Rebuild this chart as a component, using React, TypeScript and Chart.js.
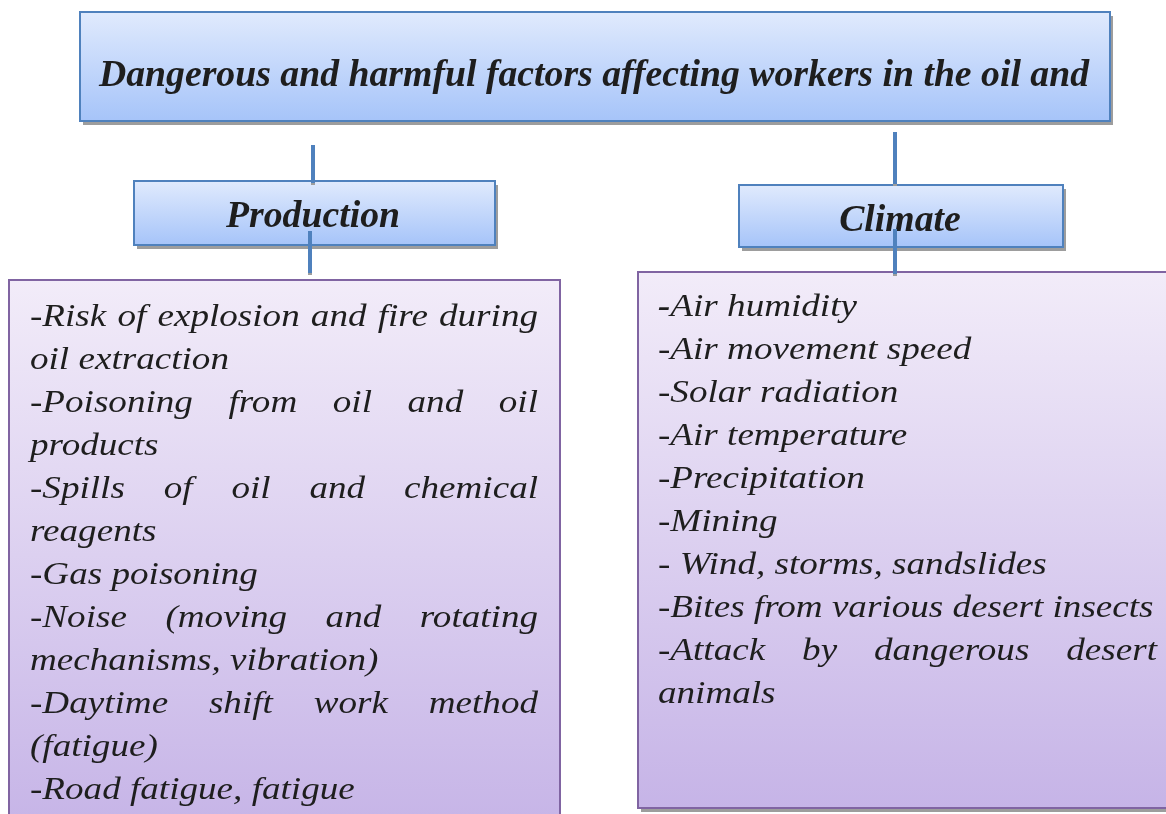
import React, { useEffect, useRef } from "react";
import { Chart, registerables } from "chart.js";

Chart.register(...registerables);

// ---- content ----
const titleText = "Dangerous and harmful factors affecting workers in the oil and";
const branchLabels = ["Production", "Climate"];

const productionLines = [
  "-Risk of explosion and fire during",
  "oil extraction",
  "-Poisoning from oil and oil",
  "products",
  "-Spills of oil and chemical",
  "reagents",
  "-Gas poisoning",
  "-Noise (moving and rotating",
  "mechanisms, vibration)",
  "-Daytime shift work method",
  "(fatigue)",
  "-Road fatigue, fatigue",
];
const productionJustified = [true, false, true, false, true, false, false, true, false, true, false, false];

const climateLines = [
  "-Air humidity",
  "-Air movement speed",
  "-Solar radiation",
  "-Air temperature",
  "-Precipitation",
  "-Mining",
  "- Wind, storms, sandslides",
  "-Bites from various desert insects",
  "-Attack by dangerous desert",
  "animals",
];
const climateJustified = [false, false, false, false, false, false, false, false, true, false];
const climateBoldDash = [true, false, false, false, false, false, false, false, false, false];

const W = 1166;
const H = 814;
const TEXT_STRETCH = 1.16;
const TITLE_STRETCH = 1.02;

type Box = { x0: number; y0: number; x1: number; y1: number };

const diagramPlugin = {
  id: "diagram",
  afterDraw(chart: any) {
    const ctx: CanvasRenderingContext2D = chart.ctx;
    const sx = chart.scales.x;
    const sy = chart.scales.y;
    const px = (v: number) => sx.getPixelForValue(v);
    const py = (v: number) => sy.getPixelForValue(v);

    const drawBox = (b: Box, top: string, bottom: string, border: string, shadow: boolean) => {
      const x0 = px(b.x0), x1 = px(b.x1), y0 = py(b.y0), y1 = py(b.y1);
      if (shadow) {
        ctx.fillStyle = "#9d9d9d";
        ctx.fillRect(x0 + 3, y0 + 4, x1 - x0, y1 - y0);
      }
      const g = ctx.createLinearGradient(0, y0, 0, y1);
      g.addColorStop(0, top);
      g.addColorStop(1, bottom);
      ctx.fillStyle = g;
      ctx.fillRect(x0, y0, x1 - x0, y1 - y0);
      ctx.strokeStyle = border;
      ctx.lineWidth = 2;
      ctx.strokeRect(x0, y0, x1 - x0, y1 - y0);
    };

    const blueTop = "#e0eafd";
    const blueBot = "#a6c4f9";
    const blueBorder = "#4f81bd";
    const purpleTop = "#f2ecf9";
    const purpleBot = "#c6b4e7";
    const purpleBorder = "#8064a2";

    // boxes
    drawBox({ x0: 80, y0: 12, x1: 1110, y1: 121 }, blueTop, blueBot, blueBorder, true);
    drawBox({ x0: 134, y0: 181, x1: 495, y1: 245 }, blueTop, blueBot, blueBorder, true);
    drawBox({ x0: 739, y0: 185, x1: 1063, y1: 247 }, blueTop, blueBot, blueBorder, true);
    drawBox({ x0: 9, y0: 280, x1: 560, y1: 830 }, purpleTop, purpleBot, purpleBorder, false);
    drawBox({ x0: 638, y0: 272, x1: 1170, y1: 808 }, purpleTop, purpleBot, purpleBorder, true);

    ctx.fillStyle = "#1e1e1e";
    ctx.textBaseline = "alphabetic";

    const stretchedCenter = (t: string, cx: number, y: number, s: number) => {
      ctx.save();
      ctx.translate(cx, y);
      ctx.scale(s, 1);
      ctx.textAlign = "center";
      ctx.fillText(t, 0, 0);
      ctx.restore();
    };

    // title and branches
    ctx.font = "italic bold 37px 'Liberation Serif'";
    stretchedCenter(titleText, px(594), py(86), TITLE_STRETCH);
    stretchedCenter(branchLabels[0], px(313), py(227), TITLE_STRETCH);
    stretchedCenter(branchLabels[1], px(900), py(231), TITLE_STRETCH);

    // lists
    const normalFont = "italic 32px 'Liberation Serif'";
    const boldFont = "italic bold 32px 'Liberation Serif'";
    const drawAt = (t: string, x: number, y: number) => {
      ctx.save();
      ctx.translate(x, y);
      ctx.scale(TEXT_STRETCH, 1);
      ctx.fillText(t, 0, 0);
      ctx.restore();
    };
    const drawLines = (
      lines: string[],
      just: boolean[],
      bold: boolean[] | null,
      left: number,
      right: number,
      base: number,
      step: number
    ) => {
      ctx.textAlign = "left";
      lines.forEach((line, i) => {
        ctx.font = normalFont;
        const y = py(base + step * i);
        const x0 = px(left);
        const width = px(right) - x0;
        if (just[i]) {
          const words = line.split(" ");
          const ws = words.map((w) => ctx.measureText(w).width * TEXT_STRETCH);
          const total = ws.reduce((a, b) => a + b, 0);
          const gap = (width - total) / (words.length - 1);
          let x = x0;
          words.forEach((w, k) => {
            drawAt(w, x, y);
            x += ws[k] + gap;
          });
        } else if (bold && bold[i]) {
          ctx.font = boldFont;
          const dash = line.charAt(0);
          drawAt(dash, x0, y);
          const dw = ctx.measureText(dash).width * TEXT_STRETCH;
          ctx.font = normalFont;
          drawAt(line.slice(1), x0 + dw, y);
        } else {
          drawAt(line, x0, y);
        }
      });
    };
    drawLines(productionLines, productionJustified, null, 30, 538, 326, 43);
    drawLines(climateLines, climateJustified, climateBoldDash, 658, 1157, 316, 43);

    // connectors
    const connectors = [
      [313, 145, 313, 184],
      [310, 231, 310, 274],
      [895, 132, 895, 185],
      [895, 229, 895, 275],
    ];
    connectors.forEach(([a, b, c, d]) => {
      ctx.fillStyle = "#9d9d9d";
      ctx.fillRect(px(a) - 2, py(d) - 2, 4, 3);
      ctx.fillStyle = "#4f81bd";
      ctx.fillRect(px(a) - 2, py(b), 4, py(d) - py(b) - 1);
    });
  },
};

export default function App() {
  const ref = useRef<HTMLCanvasElement | null>(null);
  useEffect(() => {
    if (!ref.current) return;
    const chart = new Chart(ref.current, {
      type: "scatter",
      data: { datasets: [] },
      options: {
        animation: false,
        responsive: false,
        maintainAspectRatio: false,
        layout: { padding: 0 },
        plugins: { legend: { display: false }, tooltip: { enabled: false } },
        scales: {
          x: { type: "linear", min: 0, max: W, display: false },
          y: { type: "linear", min: 0, max: H, reverse: true, display: false },
        },
      },
      plugins: [diagramPlugin],
    });
    return () => chart.destroy();
  }, []);
  return (
    <div style={{ position: "fixed", left: 0, top: 0, width: W, height: H, background: "#fff" }}>
      <canvas ref={ref} width={W} height={H} style={{ width: W, height: H, display: "block" }} />
    </div>
  );
}
